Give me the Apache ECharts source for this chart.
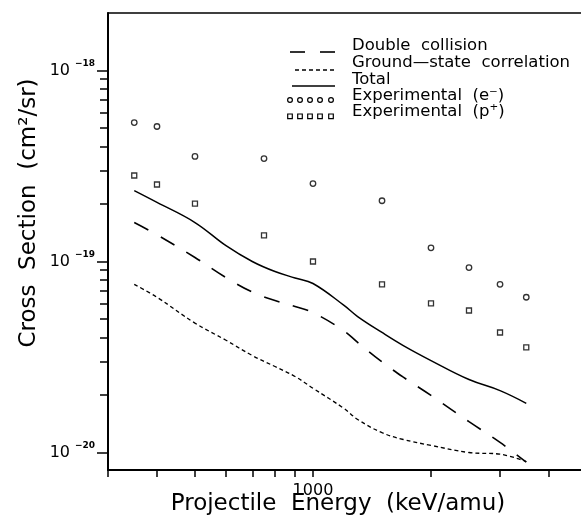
<!DOCTYPE html>
<html>
<head>
<meta charset="utf-8">
<script src="https://cdn.jsdelivr.net/npm/echarts@6/dist/echarts.min.js"></script>
<style>
html,body{margin:0;padding:0;background:#fff;}
#chart{width:581px;height:521px;}
</style>
</head>
<body>
<div id="chart"></div>
<script>
// ---- data ----
const curveEnergy = [350,400,500,600,700,800,900,1000,1200,1300,1500,1700,2000,2500,3000,3500];
const totalCS  = [2.35e-19,2.04e-19,1.60e-19,1.21e-19,1.00e-19,8.86e-20,8.20e-20,7.67e-20,5.89e-20,5.15e-20,4.25e-20,3.63e-20,3.03e-20,2.41e-20,2.11e-20,1.81e-20];
const doubleCS = [1.60e-19,1.38e-19,1.05e-19,8.24e-20,6.92e-20,6.25e-20,5.81e-20,5.40e-20,4.33e-20,3.77e-20,2.98e-20,2.48e-20,1.99e-20,1.45e-20,1.13e-20,8.9e-21];
const groundCS = [7.59e-20,6.50e-20,4.76e-20,3.87e-20,3.22e-20,2.82e-20,2.50e-20,2.17e-20,1.70e-20,1.49e-20,1.27e-20,1.17e-20,1.09e-20,1.00e-20,9.8e-21,8.97e-21];
const expEnergy = [350,400,500,750,1000,1500,2000,2500,3000,3500];
const expElectron = [5.34e-19,5.09e-19,3.55e-19,3.46e-19,2.56e-19,2.08e-19,1.18e-19,9.3e-20,7.6e-20,6.5e-20];
const expProton   = [2.82e-19,2.53e-19,2.01e-19,1.37e-19,1.00e-19,7.6e-20,6.03e-20,5.54e-20,4.25e-20,3.55e-20];
const xMinorTicks = [300,400,500,600,700,800,900,1000,2000,3000,4000];
const xTickLabels = [1000];
const yMinorTicks = [9e-21,2e-20,3e-20,4e-20,5e-20,6e-20,7e-20,8e-20,9e-20,2e-19,3e-19,4e-19,5e-19,6e-19,7e-19,8e-19,9e-19];
const yMajorTicks = [1e-20,1e-19,1e-18];
const legendLabels = ['Double  collision','Ground\u2014state  correlation','Total','Experimental  (e\u207B)','Experimental  (p\u207A)'];
const xTitle = 'Projectile  Energy  (keV/amu)';
const yTitle = 'Cross  Section  (cm\u00B2/sr)';

const FONT = "'DejaVu Sans', sans-serif";
const zip = (xs, ys) => xs.map((x, i) => [x, ys[i]]);

const X_MIN = 300, X_MAX = 5000, Y_MIN = 8.1e-21, Y_MAX = 2e-18;

const chart = echarts.init(document.getElementById('chart'), null, {renderer: 'canvas'});

const legendTextX = 352;
const rowY = [46, 63, 80, 96, 112];
const graphics = [];
// legend line samples
graphics.push({type:'line', shape:{x1:290, y1:52, x2:335, y2:52}, style:{stroke:'#000', lineWidth:1.6, lineDash:[15,15]}});
graphics.push({type:'line', shape:{x1:295, y1:70, x2:335, y2:70}, style:{stroke:'#000', lineWidth:1.3, lineDash:[4,3]}});
graphics.push({type:'line', shape:{x1:292, y1:86, x2:335, y2:86}, style:{stroke:'#000', lineWidth:1.5}});
[290,300,310,320,331].forEach(cx => {
  graphics.push({type:'circle', shape:{cx:cx, cy:100, r:2.4}, style:{stroke:'#000', fill:'#fff', lineWidth:1.2}});
  graphics.push({type:'rect', shape:{x:cx-2.3, y:114, width:4.6, height:4.6}, style:{stroke:'#000', fill:'#fff', lineWidth:1.2}});
});
legendLabels.forEach((t, i) => {
  graphics.push({type:'text', x: legendTextX, y: rowY[i], style:{text:t, font:'16.5px ' + FONT, fill:'#000', align:'left', verticalAlign:'middle', textAlign:'left', textVerticalAlign:'middle'}});
});
// axis titles
graphics.push({type:'text', x:338, y:504, style:{text:xTitle, font:'23px ' + FONT, fill:'#000', align:'center', verticalAlign:'middle', textAlign:'center', textVerticalAlign:'middle'}});
graphics.push({type:'text', x:29, y:213, rotation:Math.PI/2, style:{text:yTitle, font:'23px ' + FONT, fill:'#000', align:'center', verticalAlign:'middle', textAlign:'center', textVerticalAlign:'middle'}});

const option = {
  backgroundColor: '#fff',
  animation: false,
  grid: {left:108, right:-6, top:13, bottom:51, containLabel:false, outerBoundsMode:'none'},
  xAxis: [
    {
      type:'log', logBase:10, min:X_MIN, max:X_MAX, position:'bottom',
      axisLine:{show:true, onZero:false, lineStyle:{color:'#000', width:2}},
      axisTick:{show:true, inside:false, length:7, customValues:xMinorTicks, lineStyle:{color:'#000', width:1.5}},
      axisLabel:{show:true, customValues:xTickLabels, margin:13, fontSize:16, fontFamily:FONT, color:'#000', formatter: v => String(Math.round(v))},
      splitLine:{show:false}, minorTick:{show:false}
    },
    {
      type:'log', logBase:10, min:X_MIN, max:X_MAX, position:'top',
      axisLine:{show:true, onZero:false, lineStyle:{color:'#000', width:1.5}},
      axisTick:{show:false}, axisLabel:{show:false}, splitLine:{show:false}
    }
  ],
  yAxis: [
    {
      type:'log', logBase:10, min:Y_MIN, max:Y_MAX, position:'left',
      axisLine:{show:true, onZero:false, lineStyle:{color:'#000', width:2}},
      axisTick:{show:true, inside:false, length:8, customValues:yMinorTicks, lineStyle:{color:'#000', width:1.5}},
      axisLabel:{show:true, customValues:yMajorTicks, margin:38, fontSize:16, fontFamily:FONT, color:'#000', formatter: () => '10'},
      splitLine:{show:false}
    },
    {
      type:'log', logBase:10, min:Y_MIN, max:Y_MAX, position:'left',
      axisLine:{show:false},
      axisTick:{show:true, inside:false, length:11, customValues:yMajorTicks, lineStyle:{color:'#000', width:1.5}},
      axisLabel:{show:true, customValues:yMajorTicks, margin:13, fontSize:9, fontWeight:'bold', fontFamily:FONT, color:'#000',
        verticalAlign:'bottom', padding:[0,0,2,0],
        formatter: v => '\u2212' + String(Math.abs(Math.round(Math.log10(v))))},
      splitLine:{show:false}
    }
  ],
  series: [
    {name:'Double collision', type:'line', data:zip(curveEnergy, doubleCS), smooth:0.4, symbol:'none',
     lineStyle:{color:'#000', width:1.6, type:[16,14]}},
    {name:'Ground-state correlation', type:'line', data:zip(curveEnergy, groundCS), smooth:0.4, symbol:'none',
     lineStyle:{color:'#000', width:1.3, type:[4,3]}},
    {name:'Total', type:'line', data:zip(curveEnergy, totalCS), smooth:0.4, symbol:'none',
     lineStyle:{color:'#000', width:1.5, type:'solid'}},
    {name:'Experimental (e-)', type:'scatter', data:zip(expEnergy, expElectron), symbol:'circle', symbolSize:5.5,
     itemStyle:{color:'#fff', borderColor:'#000', borderWidth:1.3}},
    {name:'Experimental (p+)', type:'scatter', data:zip(expEnergy, expProton), symbol:'rect', symbolSize:5,
     itemStyle:{color:'#fff', borderColor:'#000', borderWidth:1.3}}
  ],
  graphic: graphics
};
chart.setOption(option);
</script>
</body>
</html>
